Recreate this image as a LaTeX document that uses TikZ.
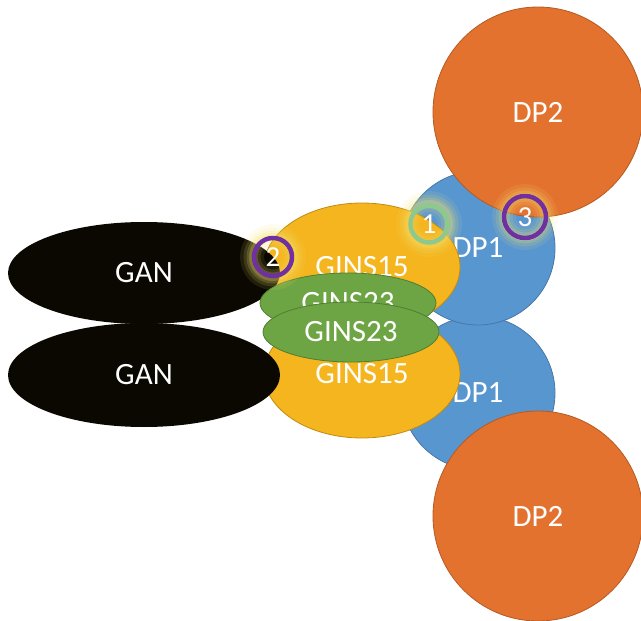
\documentclass[tikz,border=0pt]{standalone}
\usepackage{fontspec}
\setmainfont{Carlito}
\usepackage{tikz}
\usetikzlibrary{shapes.geometric}

\definecolor{dpone}{HTML}{5896D0}
\definecolor{dponeline}{HTML}{4677A8}
\definecolor{dptwo}{HTML}{E3722F}
\definecolor{dptwoline}{HTML}{B55A23}
\definecolor{ginsgold}{HTML}{F5B51E}
\definecolor{ginsgoldline}{HTML}{C08C10}
\definecolor{ginsgreen}{HTML}{6DA544}
\definecolor{ginsgreenline}{HTML}{4F7E31}
\definecolor{ganblack}{HTML}{0A0800}
\definecolor{siteviolet}{HTML}{7030A0}
\definecolor{sitegreen}{HTML}{8DC98F}
\definecolor{haze}{HTML}{F3E36E}

\begin{document}
\begin{tikzpicture}[line cap=round,line join=round,x=1pt,y=-1pt,
  blob/.style={inner sep=0pt,line width=0.8pt,text=white,font=\fontsize{31}{37}\selectfont},
  disc/.style={blob,circle,minimum size=#1},
  oval/.style 2 args={blob,ellipse,minimum width=#1,minimum height=#2},
  site/.style={circle,draw=#1,line width=4.5pt,minimum size=38pt,inner sep=0pt,
    text=white,font=\fontsize{29}{35}\selectfont}]
\useasboundingbox (0,0) rectangle (641,621);

\node[disc=154,fill=dpone,draw=dponeline] (dpb1) at (478,393) {DP1};
\node[disc=154,fill=dpone,draw=dponeline] (dpa1) at (478,248) {DP1};
\node[disc=210,fill=dptwo,draw=dptwoline] (dpa2) at (538,112) {DP2};
\node[disc=210,fill=dptwo,draw=dptwoline] (dpb2) at (538,516) {DP2};

\node[oval={196}{128},fill=ginsgold,draw=ginsgoldline] (ginb15) at (362,374) {GINS15};
\node[oval={196}{128},fill=ginsgold,draw=ginsgoldline] (gina15) at (362,267) {GINS15};

\node[oval={272}{102},fill=ganblack] (gana) at (144,273) {GAN};
\node[oval={272}{104},fill=ganblack] (ganb) at (144,375) {GAN};

\node[oval={176}{60},fill=ginsgreen,draw=ginsgreenline] (gina23) at (348,303) {GINS23};
\node[oval={176}{60},fill=ginsgreen,draw=ginsgreenline] (ginb23) at (351,332) {GINS23};

% soft halo round the three sites
\foreach \p in {(429,224),(273,257),(525,217)}
  \foreach \w/\o in {24/0.10,17/0.14,11/0.18,6/0.24}
    \draw[haze,opacity=\o,line width=\w pt] \p circle (21pt);

\node[site=sitegreen,minimum size=37pt] (one) at (429,224) {1};
\node[site=siteviolet] (two) at (273,257) {2};
\node[site=siteviolet,minimum size=42pt] (three) at (525,217) {3};
\end{tikzpicture}
\end{document}
